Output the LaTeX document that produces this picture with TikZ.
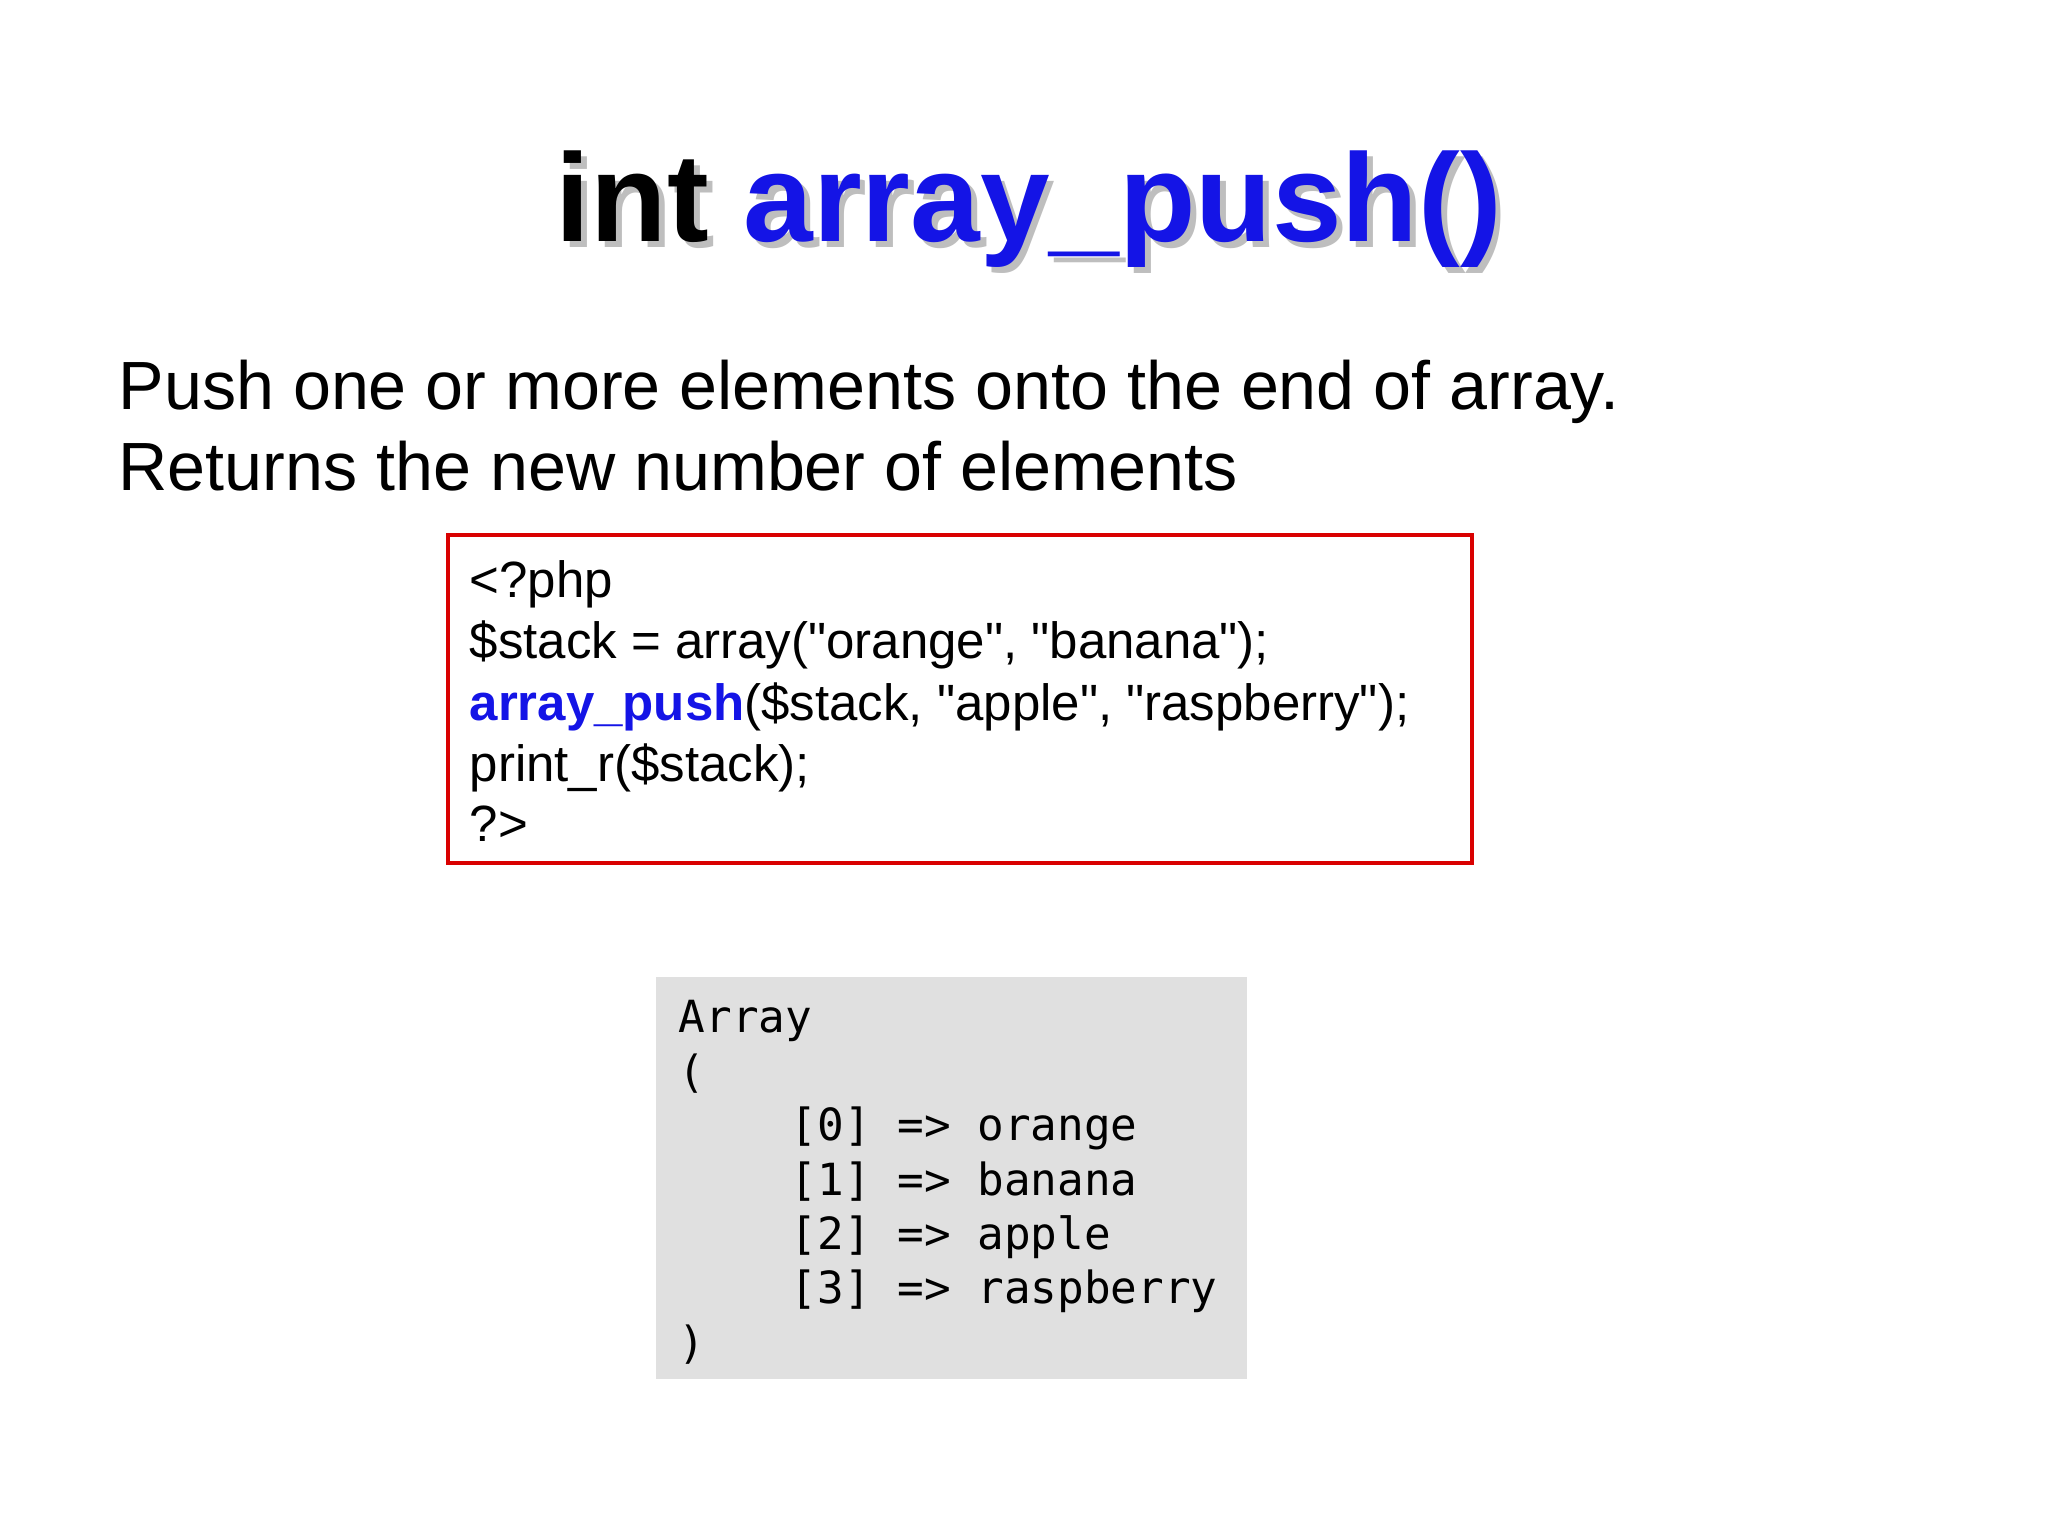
\documentclass[tikz,border=0pt]{standalone}
\usepackage{fontspec}
\setmainfont{Liberation Sans}
\newfontfamily\plainsans{Liberation Sans}
\newfontfamily\codemono{DejaVu Sans Mono}
\newcommand{\dq}{{\plainsans"}}
\definecolor{tblue}{RGB}{20,20,230}
\definecolor{sgray}{RGB}{190,190,190}
\definecolor{boxgray}{RGB}{224,224,224}
\begin{document}
\begin{tikzpicture}[x=0.01cm,y=-0.01cm,
  txt/.style={anchor=base west,inner sep=0pt},
  codeline/.style={txt,font=\fontsize{14.5pt}{17pt}\selectfont},
  outline/.style={txt,font=\codemono\fontsize{12.6pt}{15pt}\selectfont}]
\useasboundingbox (0,0) rectangle (2048,1536);
% title
\node[txt,text=sgray,font=\bfseries\fontsize{35.6pt}{40pt}\selectfont] (tshadow) at (561,247) {int array\_push()};
\node[txt,font=\bfseries\fontsize{35.6pt}{40pt}\selectfont] (title) at (555,241) {int \textcolor{tblue}{array\_push()}};
% body
\node[txt,font=\fontsize{19.4pt}{23pt}\selectfont] (l1) at (118,409) {Push one or more elements onto the end of array.};
\node[txt,font=\fontsize{19.4pt}{23pt}\selectfont] (l2) at (118,490) {Returns the new number of elements};
% code box
\draw[red!85!black,line width=1.2pt] (448,535) rectangle (1472,863);
\node[codeline] (c1) at (469,597) {<?php};
\node[codeline] (c2) at (469,658) {\$stack = array(\dq orange\dq, \dq banana\dq);};
\node[codeline] (c3) at (469,720) {\textcolor{tblue}{\bfseries array\_push}(\$stack, \dq apple\dq, \dq raspberry\dq);};
\node[codeline] (c4) at (469,781) {print\_r(\$stack);};
\node[codeline] (c5) at (469,841) {?>};
% output box
\fill[boxgray] (656,977) rectangle (1247,1379);
\node[outline] (o1) at (678,1032) {Array};
\node[outline] (o2) at (678,1087) {(};
\node[outline] (o3) at (790,1140) {[0] => orange};
\node[outline] (o4) at (790,1195) {[1] => banana};
\node[outline] (o5) at (790,1249) {[2] => apple};
\node[outline] (o6) at (790,1303) {[3] => raspberry};
\node[outline] (o7) at (678,1358) {)};
\end{tikzpicture}
\end{document}
